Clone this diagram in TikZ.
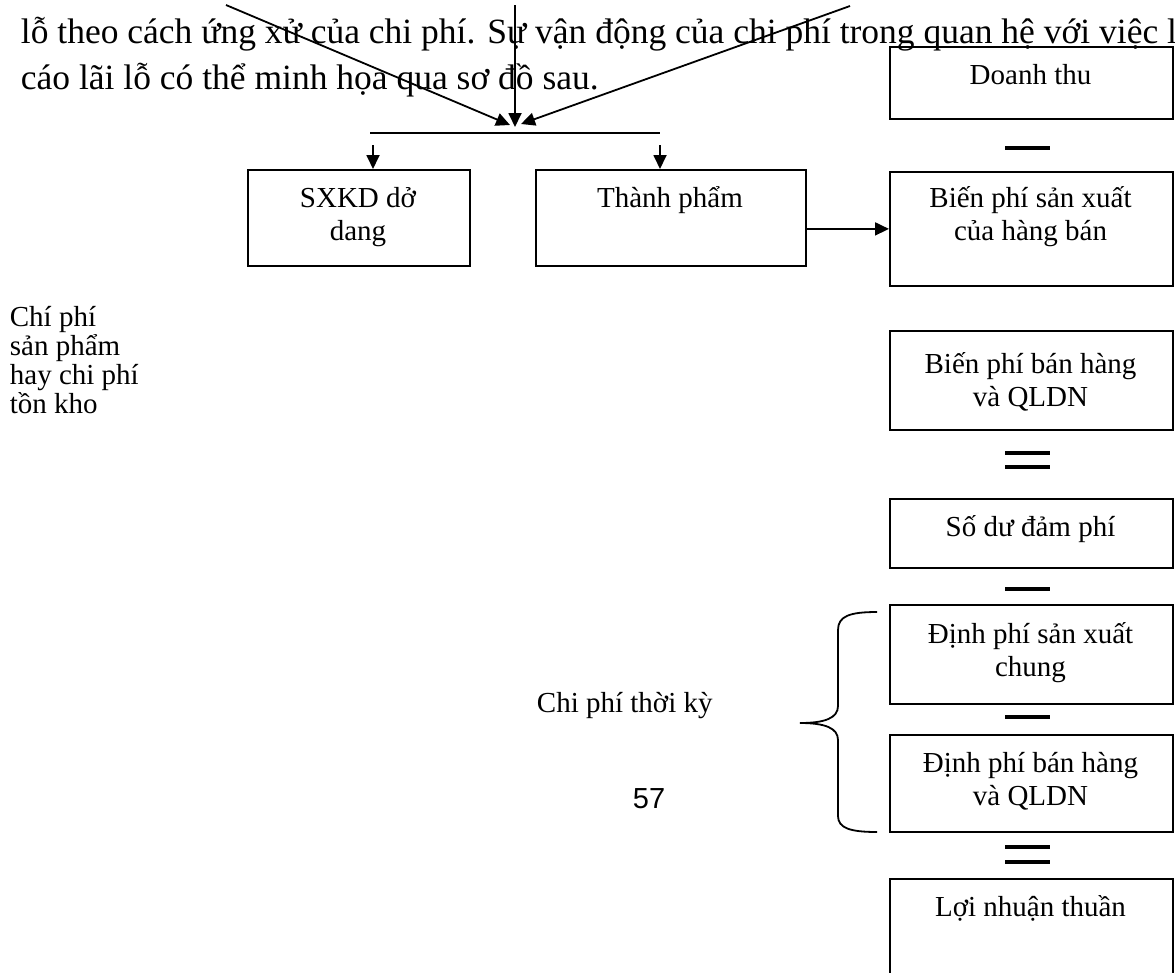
\documentclass[tikz,border=0pt]{standalone}
\usepackage{fontspec}
\setmainfont{Liberation Serif}
\newfontfamily\sansf{Liberation Sans}
\usetikzlibrary{arrows.meta}
\begin{document}
\begin{tikzpicture}[x=1pt,y=-1pt,
  line width=1.8pt,
  boxnode/.style={draw, line width=1.8pt, anchor=north west, inner sep=0pt, minimum width=283pt},
  boxtxt/.style={font=\fontsize{29}{33.5}\selectfont, align=center, anchor=base, inner sep=0pt},
  bodytxt/.style={font=\fontsize{35.5}{45}\selectfont, anchor=base west, inner sep=0pt},
  arr/.style={-{Triangle[width=13pt,length=14pt]}},
  bar/.style={line width=4pt},
]
\useasboundingbox (0,0) rectangle (1175,972);

% paragraph text
\node[bodytxt] (l2) at (20,43) {lỗ theo cách ứng xử của chi phí. Sự vận động của chi phí trong quan hệ với việc l};
\node[bodytxt] (l3) at (20,89) {cáo lãi lỗ có thể minh họa qua sơ đồ sau.};

% converging arrows
\coordinate (sL) at (226,5);
\coordinate (sM) at (515,5);
\coordinate (sR) at (850,6);
\coordinate (tL) at (510,125);
\coordinate (tM) at (515,127);
\coordinate (tR) at (521,124);
\draw[arr] (sL) -- (tL);
\draw[arr] (sM) -- (tM);
\draw[arr] (sR) -- (tR);

\coordinate (hlL) at (370,133);
\coordinate (hlR) at (660,133);
\draw (hlL) -- (hlR);

% middle boxes
\node[boxnode, minimum width=222pt, minimum height=96pt] (sx) at (247,169) {};
\node[boxnode, minimum width=270pt, minimum height=96pt] (tp) at (535,169) {};
\node[boxtxt] (sxT) at (358,240.5) {SXKD dở\\dang};
\node[boxtxt] (tpT) at (670,207) {Thành phẩm};

\coordinate (dL) at (373,145);
\coordinate (dR) at (660,145);
\draw[arr] (dL) -- (dL |- sx.north);
\draw[arr] (dR) -- (dR |- tp.north);

% right column
\node[boxnode, minimum height=72pt] (dt) at (889,46) {};
\node[boxnode, minimum height=114pt] (bp1) at (889,171) {};
\node[boxnode, minimum height=99pt] (bp2) at (889,330) {};
\node[boxnode, minimum height=69pt] (sd) at (889,498) {};
\node[boxnode, minimum height=99pt] (dp1) at (889,604) {};
\node[boxnode, minimum height=97pt] (dp2) at (889,734) {};
\node[boxnode, minimum height=130pt] (ln) at (889,878) {};

\node[boxtxt] (dtT) at (1030.5,84) {Doanh thu};
\node[boxtxt] (bp1T) at (1030.5,240.5) {Biến phí sản xuất\\của hàng bán};
\node[boxtxt] (bp2T) at (1030.5,406.5) {Biến phí bán hàng\\và QLDN};
\node[boxtxt] (sdT) at (1030.5,536) {Số dư đảm phí};
\node[boxtxt] (dp1T) at (1030.5,676.5) {Định phí sản xuất\\chung};
\node[boxtxt] (dp2T) at (1030.5,805.5) {Định phí bán hàng\\và QLDN};
\node[boxtxt] (lnT) at (1030.5,916) {Lợi nhuận thuần};

\draw[arr] (tp.east |- bp1.west) -- (bp1.west);

% operators
\draw[bar] (1005,148) -- (1050,148);
\draw[bar] (1005,453) -- (1050,453);
\draw[bar] (1005,467) -- (1050,467);
\draw[bar] (1005,589) -- (1050,589);
\draw[bar] (1005,717) -- (1050,717);
\draw[bar] (1005,847) -- (1050,847);
\draw[bar] (1005,862) -- (1050,862);

% brace
\draw (877,612) .. controls (850,612) and (838,616) .. (838,630) -- (838,706)
  .. controls (838,718) and (825,723) .. (800,723)
  .. controls (825,723) and (838,728) .. (838,740) -- (838,816)
  .. controls (838,828) and (850,832) .. (877,832);

% side labels
\node[boxtxt, anchor=base west] (cptk) at (536,712) {Chi phí thời kỳ};
\node[font=\sansf\fontsize{29}{30}\selectfont, anchor=base west, inner sep=0pt] (pg) at (632,808) {57};
\node[boxtxt, font=\fontsize{29}{29}\selectfont, align=left, anchor=base west] (cpsp) at (9,413) {Chí phí\\sản phẩm\\hay chi phí\\tồn kho};
\end{tikzpicture}
\end{document}
